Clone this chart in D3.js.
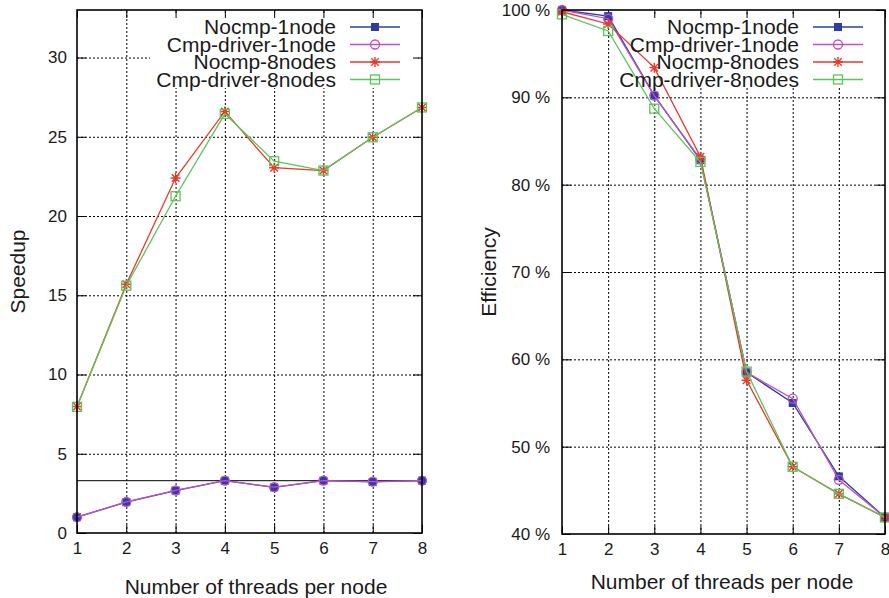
<!DOCTYPE html>
<html>
<head>
<meta charset="utf-8">
<script src="https://cdn.jsdelivr.net/npm/d3@7"></script>
<style>
  body { margin: 0; background: #fff; }
  svg { font-family: "Liberation Sans", Arial, Helvetica, sans-serif; }
  .domain { display: none; }
</style>
</head>
<body>
<div id="chart"></div>
<script>
// threads per node
const threads = [1, 2, 3, 4, 5, 6, 7, 8];
const seriesNames = ["Nocmp-1node", "Cmp-driver-1node", "Nocmp-8nodes", "Cmp-driver-8nodes"];

// speedup values
const speedupNocmp1 = [1.0, 1.95, 2.68, 3.3, 2.88, 3.3, 3.22, 3.3];
const speedupCmp1 = [1.0, 1.96, 2.69, 3.3, 2.89, 3.31, 3.24, 3.31];
const speedupNocmp8 = [7.98, 15.7, 22.4, 26.6, 23.05, 22.87, 24.97, 26.85];
const speedupCmp8 = [7.96, 15.6, 21.25, 26.45, 23.46, 22.87, 24.97, 26.85];
const speedupRef = 3.3;

// efficiency values (%)
const effNocmp1 = [100, 99.3, 90.2, 82.8, 58.5, 55.0, 46.6, 41.9];
const effCmp1 = [100, 99.0, 90.2, 82.9, 58.5, 55.5, 46.2, 41.9];
const effNocmp8 = [99.8, 98.4, 93.4, 83.2, 57.6, 47.7, 44.6, 41.9];
const effCmp8 = [99.5, 97.6, 88.7, 82.6, 58.6, 47.7, 44.6, 41.9];

const speedupTicks = [0, 5, 10, 15, 20, 25, 30];
const effTicks = [40, 50, 60, 70, 80, 90, 100];

const colors = ["#2b3fa3", "#c24fc6", "#e8392c", "#5ec35a"];
const markers = ["fillsquare", "circle", "star", "square"];

const svg = d3.select("#chart").append("svg").attr("width", 889).attr("height", 598);

function drawMarker(g, type, cx, cy, color) {
    if (type === "fillsquare") {
        g.append("rect").attr("x", cx - 4).attr("y", cy - 4).attr("width", 8).attr("height", 8)
            .attr("fill", color);
    } else if (type === "circle") {
        g.append("circle").attr("cx", cx).attr("cy", cy).attr("r", 4.5)
            .attr("fill", "none").attr("stroke", color).attr("stroke-width", 1.3);
    } else if (type === "star") {
        const r = 5;
        const p = `M${cx - r},${cy}L${cx + r},${cy}M${cx},${cy - r}L${cx},${cy + r}` +
            `M${cx - r * 0.75},${cy - r * 0.75}L${cx + r * 0.75},${cy + r * 0.75}` +
            `M${cx - r * 0.75},${cy + r * 0.75}L${cx + r * 0.75},${cy - r * 0.75}`;
        g.append("path").attr("d", p).attr("stroke", color).attr("stroke-width", 1.4).attr("fill", "none");
    } else {
        g.append("rect").attr("x", cx - 4.5).attr("y", cy - 4.5).attr("width", 9).attr("height", 9)
            .attr("fill", "none").attr("stroke", color).attr("stroke-width", 1.3);
    }
}

function drawPanel(cfg) {
    const x = d3.scaleLinear().domain([1, 8]).range([cfg.x0, cfg.x1]);
    const y = d3.scaleLinear().domain(cfg.ydomain).range([cfg.y1, cfg.y0]);
    const g = svg.append("g");
    const w = cfg.x1 - cfg.x0, h = cfg.y1 - cfg.y0;

    // grid
    g.append("g").attr("transform", "translate(0," + cfg.y1 + ")")
        .call(d3.axisBottom(x).tickValues(threads.slice(1, -1)).tickSize(-h).tickFormat(""))
        .selectAll("line").attr("stroke", "#000").attr("stroke-dasharray", "2,2");
    g.append("g").attr("transform", "translate(" + cfg.x0 + ",0)")
        .call(d3.axisLeft(y).tickValues(cfg.ticks.slice(1).filter(t => t < cfg.ydomain[1])).tickSize(-w).tickFormat(""))
        .selectAll("line").attr("stroke", "#000").attr("stroke-dasharray", "2,2");

    // key area hides the grid
    g.append("rect").attr("x", cfg.keyLeft).attr("y", cfg.y0 + 4)
        .attr("width", cfg.x1 - 4 - cfg.keyLeft).attr("height", 74).attr("fill", "#fff");

    // inward ticks on all four sides
    g.append("g").attr("transform", "translate(0," + cfg.y1 + ")")
        .call(d3.axisBottom(x).tickValues(threads).tickSize(-8).tickPadding(16).tickFormat(d3.format("d")))
        .call(a => a.selectAll("line").attr("stroke", "#000"))
        .call(a => a.selectAll("text").attr("font-size", 17).attr("fill", "#1a1a1a").attr("dy", "0.32em"));
    g.append("g").attr("transform", "translate(0," + cfg.y0 + ")")
        .call(d3.axisTop(x).tickValues(threads).tickSize(-8).tickFormat(""))
        .selectAll("line").attr("stroke", "#000");
    g.append("g").attr("transform", "translate(" + cfg.x0 + ",0)")
        .call(d3.axisLeft(y).tickValues(cfg.ticks).tickSize(-9).tickPadding(cfg.labelPad).tickFormat(cfg.fmt))
        .call(a => a.selectAll("line").attr("stroke", "#000"))
        .call(a => a.selectAll("text").attr("font-size", 17).attr("fill", "#1a1a1a"));
    g.append("g").attr("transform", "translate(" + cfg.x1 + ",0)")
        .call(d3.axisRight(y).tickValues(cfg.ticks).tickSize(-9).tickFormat(""))
        .selectAll("line").attr("stroke", "#000");

    if (cfg.ref !== undefined) {
        g.append("line").attr("x1", cfg.x0).attr("x2", cfg.x1)
            .attr("y1", y(cfg.ref)).attr("y2", y(cfg.ref))
            .attr("stroke", "#000").attr("stroke-width", 1);
    }

    // series
    const line = d3.line().x((d, i) => x(threads[i])).y(d => y(d));
    cfg.series.forEach((vals, k) => {
        g.append("path").datum(vals).attr("d", line)
            .attr("fill", "none").attr("stroke", colors[k]).attr("stroke-width", 1.3);
        vals.forEach((v, i) => drawMarker(g, markers[k], x(threads[i]), y(v), colors[k]));
    });

    // legend
    seriesNames.forEach((name, k) => {
        const ly = cfg.y0 + 17 + k * 17.5;
        g.append("text").attr("x", cfg.x1 - 86).attr("y", ly).attr("dy", "0.35em")
            .attr("text-anchor", "end").attr("font-size", 21).attr("fill", "#1a1a1a").text(name);
        g.append("line").attr("x1", cfg.x1 - 72).attr("x2", cfg.x1 - 22).attr("y1", ly).attr("y2", ly)
            .attr("stroke", colors[k]).attr("stroke-width", 1.3);
        drawMarker(g, markers[k], cfg.x1 - 47, ly, colors[k]);
    });

    // border
    g.append("rect").attr("x", cfg.x0).attr("y", cfg.y0).attr("width", w).attr("height", h)
        .attr("fill", "none").attr("stroke", "#000").attr("stroke-width", 1.6);

    // titles
    g.append("text").attr("transform", "translate(" + cfg.ytx + "," + ((cfg.y0 + cfg.y1) / 2) + ") rotate(-90)")
        .attr("text-anchor", "middle").attr("dy", "0.35em").attr("font-size", 21).attr("fill", "#1a1a1a").text(cfg.ytitle);
    g.append("text").attr("x", cfg.xtx).attr("y", cfg.xty).attr("dy", "0.35em")
        .attr("text-anchor", "middle").attr("font-size", 21).attr("fill", "#1a1a1a").text("Number of threads per node");
}

drawPanel({
    x0: 77, x1: 422, y0: 10, y1: 533, ydomain: [0, 33], ticks: speedupTicks,
    fmt: d => d, labelPad: 10, ref: speedupRef, keyLeft: 150,
    series: [speedupNocmp1, speedupCmp1, speedupNocmp8, speedupCmp8],
    ytitle: "Speedup", ytx: 18, xtx: 256, xty: 587
});
drawPanel({
    x0: 562, x1: 885, y0: 10, y1: 534, ydomain: [40, 100], ticks: effTicks,
    fmt: d => d + " %", labelPad: 12, keyLeft: 615,
    series: [effNocmp1, effCmp1, effNocmp8, effCmp8],
    ytitle: "Efficiency", ytx: 489, xtx: 722, xty: 582
});
</script>
</body>
</html>
